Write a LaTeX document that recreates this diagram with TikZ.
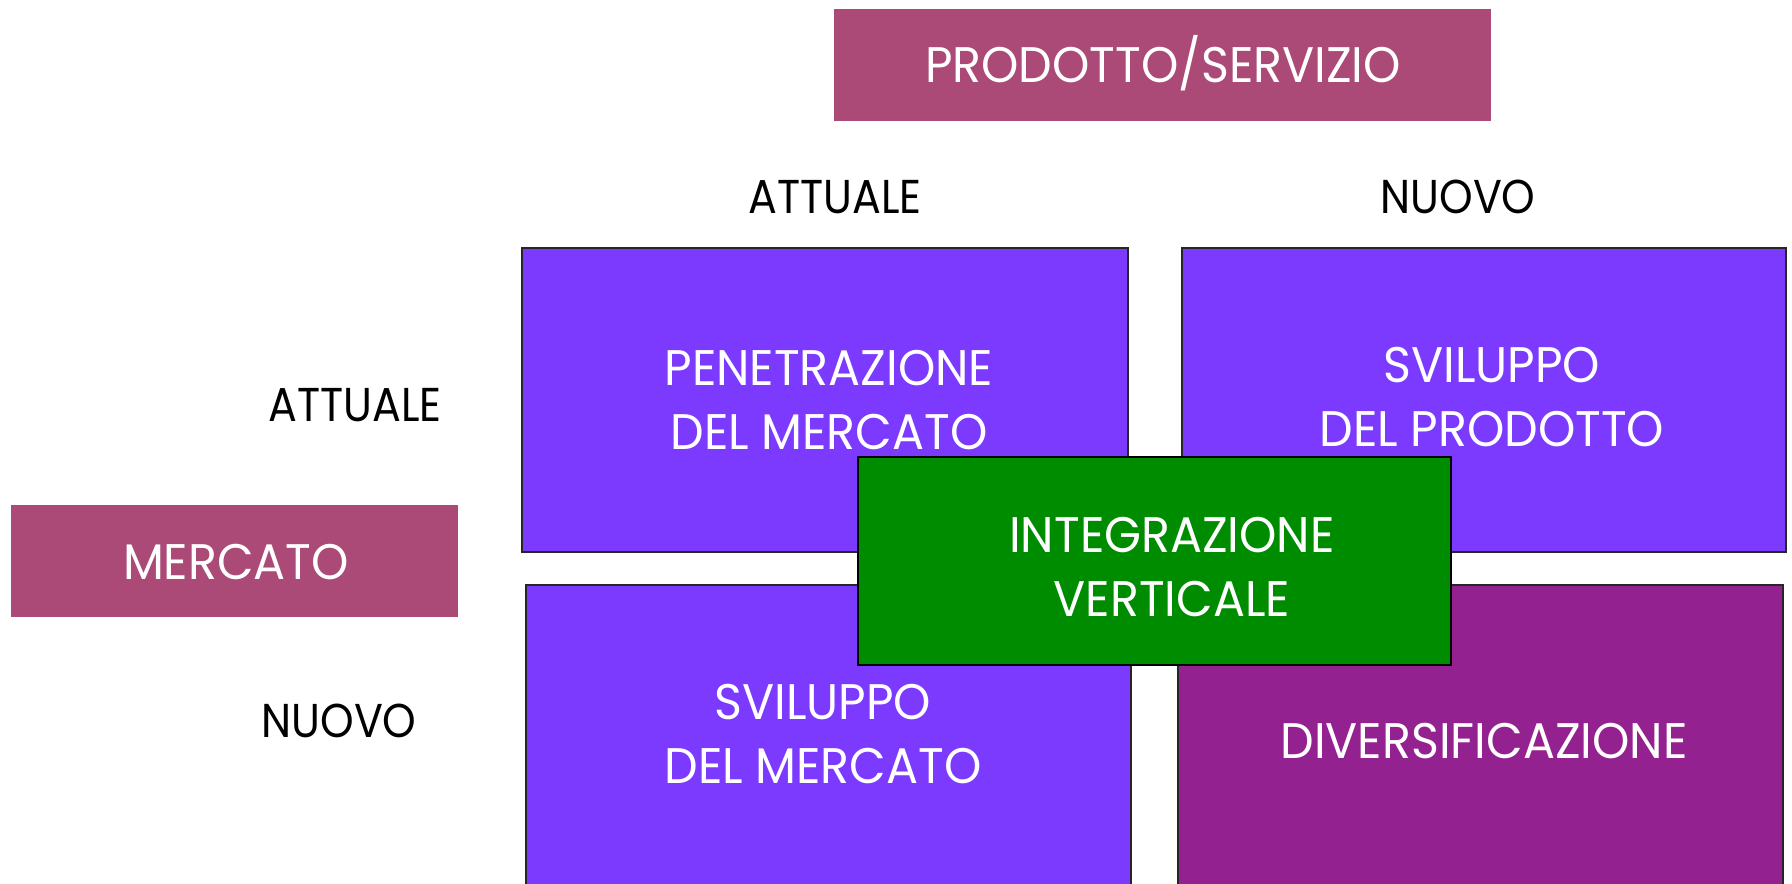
\documentclass[tikz,border=0pt]{standalone}
\usepackage{fontspec}
\setmainfont[FakeStretch=0.95]{Poppins}
\newfontfamily\axisfont[FakeStretch=0.9]{Poppins}
\definecolor{mauve}{HTML}{AB4A76}
\definecolor{violetbox}{HTML}{7C3AFF}
\definecolor{greenbox}{HTML}{008C00}
\definecolor{plumbox}{HTML}{932190}
\begin{document}
\begin{tikzpicture}[x=0.4pt,y=-0.4pt,
  headbox/.style={fill=mauve, draw=none, inner sep=0pt},
  cellbox/.style={fill=violetbox, draw=black!85, line width=0.7pt, inner sep=0pt},
  lbl/.style={font=\fontsize{20}{25.6}\selectfont, text=white, align=center, inner sep=0pt},
  axis/.style={font=\axisfont\fontsize{19}{24}\selectfont, text=black, inner sep=0pt}]
\useasboundingbox (0,0) rectangle (1792,884);
% header boxes
\node[headbox, minimum width=262.8pt, minimum height=44.8pt] (prod) at (1162.5,65) {};
\node[lbl] (prodt) at (1163,63) {PRODOTTO/SERVIZIO};
\node[headbox, minimum width=178.8pt, minimum height=44.8pt] (merc) at (234.5,561) {};
\node[lbl] (merct) at (236,562) {MERCATO};
% axis labels
\node[axis] (att1) at (835,197) {ATTUALE};
\node[axis] (nuo1) at (1458,197) {NUOVO};
\node[axis] (att2) at (355,405) {ATTUALE};
\node[axis] (nuo2) at (339,721) {NUOVO};
% cells
\node[cellbox, minimum width=242.4pt, minimum height=121.6pt] (pen) at (825,400) {};
\node[lbl] (pent) at (829,400) {PENETRAZIONE\\DEL MERCATO};
\node[cellbox, minimum width=241.6pt, minimum height=121.6pt] (svp) at (1484,400) {};
\node[lbl] (svpt) at (1492,397) {SVILUPPO\\DEL PRODOTTO};
\node[cellbox, minimum width=242pt, minimum height=126pt] (svm) at (828.5,742.5) {};
\node[lbl] (svmt) at (823,734) {SVILUPPO\\DEL MERCATO};
\node[cellbox, fill=plumbox, minimum width=242pt, minimum height=126pt] (div) at (1480.5,742.5) {};
\node[lbl] (divt) at (1484,741) {DIVERSIFICAZIONE};
% central box
\node[fill=greenbox, draw=black, line width=1pt, inner sep=0pt, minimum width=237.2pt, minimum height=83.2pt] (int) at (1154.5,561) {};
\node[lbl] (intt) at (1172,567) {INTEGRAZIONE\\VERTICALE};
\end{tikzpicture}
\end{document}
